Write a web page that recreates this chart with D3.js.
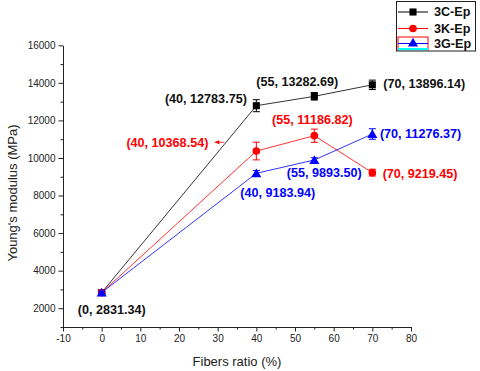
<!DOCTYPE html>
<html>
<head>
<meta charset="utf-8">
<script src="https://cdn.jsdelivr.net/npm/d3@7"></script>
<style>
  body { margin: 0; background: #fff; }
  svg { display: block; font-family: "Liberation Sans", Arial, sans-serif; }
  .lbl { font-weight: bold; font-size: 12.6px; }
</style>
</head>
<body>
<svg id="chart" width="480" height="371"></svg>
<script>
// data
const fiberRatio = [0, 40, 55, 70]
const seriesNames = ["3C-Ep", "3K-Ep", "3G-Ep"]
const modulus3C = [2831.34, 12783.75, 13282.69, 13896.14]
const modulus3K = [2831.34, 10368.54, 11186.82, 9219.45]
const modulus3G = [2831.34, 9183.94, 9893.50, 11276.37]
const error3C = [60, 320, 200, 250]
const error3K = [60, 470, 350, 180]
const error3G = [60, 150, 120, 280]
const labels3C = ["(0, 2831.34)", "(40, 12783.75)", "(55, 13282.69)", "(70, 13896.14)"]
const labels3K = [null, "(40, 10368.54)", "(55, 11186.82)", "(70, 9219.45)"]
const labels3G = [null, "(40, 9183.94)", "(55, 9893.50)", "(70, 11276.37)"]
const xTicks = [-10, 0, 10, 20, 30, 40, 50, 60, 70, 80]
const yTicks = [2000, 4000, 6000, 8000, 10000, 12000, 14000, 16000]

// label placement (pixel offsets from the point)
const labelPos3C = [[10, 16.7, "middle"], [-9.5, -6.7, "end"], [-17, -14.6, "middle"], [11, -1.5, "start"]]
const labelPos3K = [null, [-48, -8.8, "end"], [-2, -15.7, "middle"], [10.3, 0.7, "start"]]
const labelPos3G = [null, [21.5, 19.4, "middle"], [10, 12.7, "middle"], [7.6, 0, "start"]]

const svg = d3.select("#chart")
const x = d3.scaleLinear().domain([-10, 80]).range([63, 411])
const y = d3.scaleLinear().domain([1000, 16000]).range([327, 45.3])
const plain = d => String(d)

// axes
const xMinor = d3.range(-10, 81, 5).filter(v => v % 10 !== 0)
const yMinor = d3.range(1000, 16001, 1000).filter(v => v % 2000 !== 0)

svg.append("g").attr("transform", "translate(0,327)")
    .call(d3.axisBottom(x).tickValues(xTicks).tickFormat(plain).tickSize(4.5).tickSizeOuter(0).tickPadding(3))
svg.append("g").attr("transform", "translate(0,327)")
    .call(d3.axisBottom(x).tickValues(xMinor).tickSize(2.5).tickFormat("").tickSizeOuter(0))
    .select(".domain").remove()

svg.append("g").attr("transform", "translate(63,0)")
    .call(d3.axisLeft(y).tickValues(yTicks).tickFormat(plain).tickSize(4.5).tickSizeOuter(0).tickPadding(3))
svg.append("g").attr("transform", "translate(63,0)")
    .call(d3.axisLeft(y).tickValues(yMinor).tickSize(2.5).tickFormat("").tickSizeOuter(0))
    .select(".domain").remove()

svg.selectAll(".tick text").attr("font-size", 10).attr("fill", "#222").attr("font-family", "Liberation Sans, Arial, sans-serif")
svg.selectAll(".domain, .tick line").attr("stroke", "#222")

svg.append("text")
    .attr("x", 237).attr("y", 366)
    .attr("text-anchor", "middle").attr("font-size", 13).attr("fill", "#222")
    .text("Fibers ratio (%)")
svg.append("text")
    .attr("transform", "translate(16.5,193) rotate(-90)")
    .attr("text-anchor", "middle").attr("font-size", 13).attr("fill", "#222")
    .text("Young's modulus (MPa)")

const series = [
    { name: seriesNames[0], values: modulus3C, err: error3C, labels: labels3C, pos: labelPos3C, color: "#000000", marker: d3.symbolSquare, size: 50 },
    { name: seriesNames[1], values: modulus3K, err: error3K, labels: labels3K, pos: labelPos3K, color: "#ff0000", marker: d3.symbolCircle, size: 46 },
    { name: seriesNames[2], values: modulus3G, err: error3G, labels: labels3G, pos: labelPos3G, color: "#0000ff", marker: d3.symbolTriangle, size: 44 },
]

const line = d3.line().x((d, i) => x(fiberRatio[i])).y(d => y(d))

series.forEach(s => {
    const g = svg.append("g")
    g.append("path").attr("d", line(s.values))
        .attr("fill", "none").attr("stroke", s.color).attr("stroke-width", 0.8)

    s.values.forEach((v, i) => {
        const cx = x(fiberRatio[i])
        const y0 = y(v - s.err[i]), y1 = y(v + s.err[i])
        g.append("path")
            .attr("d", `M${cx},${y0}V${y1}M${cx - 3.5},${y0}H${cx + 3.5}M${cx - 3.5},${y1}H${cx + 3.5}`)
            .attr("stroke", s.color).attr("stroke-width", 1).attr("fill", "none")
        g.append("path")
            .attr("d", d3.symbol(s.marker, s.size)())
            .attr("transform", `translate(${cx},${y(v) + (s.marker === d3.symbolTriangle ? 1 : 0)})`)
            .attr("fill", s.color)
    })
})

// point labels
series.forEach(s => {
    s.labels.forEach((t, i) => {
        if (!t) return
        const p = s.pos[i]
        svg.append("text").attr("class", "lbl")
            .attr("x", x(fiberRatio[i]) + p[0])
            .attr("y", y(s.values[i]) + p[1])
            .attr("dy", "0.35em")
            .attr("text-anchor", p[2])
            .attr("fill", s.color === "#000000" ? "#111" : s.color)
            .text(t)
    })
})

// little arrow beside the red 40% label
const ax = x(40) - 41, ay = y(modulus3K[1]) - 8.8
svg.append("path").attr("d", `M${ax},${ay}H${ax + 9}`).attr("stroke", "#ff0000").attr("stroke-width", 0.8)
svg.append("path").attr("d", `M${ax - 1},${ay}L${ax + 4},${ay - 2}L${ax + 4},${ay + 2}Z`).attr("fill", "#ff0000")

// legend
const lg = svg.append("g")
lg.append("rect").attr("x", 396.5).attr("y", 1.5).attr("width", 79).attr("height", 49.5)
    .attr("fill", "#fff").attr("stroke", "#222").attr("stroke-width", 1)
lg.append("rect").attr("x", 398).attr("y", 37).attr("width", 30).attr("height", 13.5)
    .attr("fill", "#fff").attr("stroke", "#ff0000").attr("stroke-width", 1)
lg.append("rect").attr("x", 398).attr("y", 48).attr("width", 30).attr("height", 2.5).attr("fill", "#00ffff")
const legendY = [12, 28.5, 43.5]
series.forEach((s, i) => {
    lg.append("path").attr("d", `M398,${legendY[i]}H428`).attr("stroke", s.color).attr("stroke-width", 1)
    lg.append("path").attr("d", d3.symbol(s.marker, s.size)())
        .attr("transform", `translate(413,${legendY[i]})`).attr("fill", s.color)
    lg.append("text").attr("class", "lbl").attr("x", 434).attr("y", legendY[i]).attr("dy", "0.35em")
        .attr("fill", "#111").text(s.name)
})
</script>
</body>
</html>
